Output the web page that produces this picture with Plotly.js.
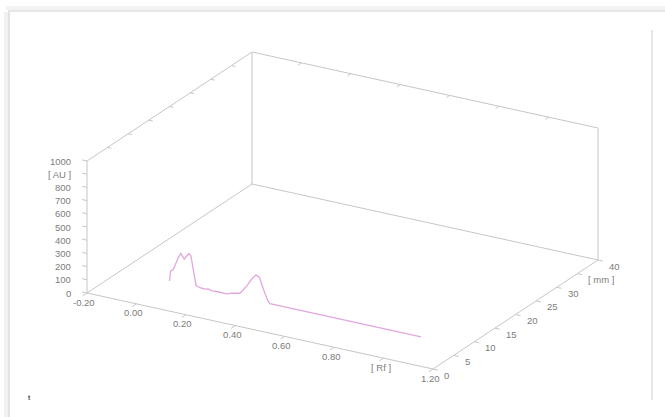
<!DOCTYPE html>
<html>
<head>
<meta charset="utf-8">
<script src="https://cdn.plot.ly/plotly-3.0.1.min.js"></script>
<style>
html,body{margin:0;padding:0;background:#fff;}
#chart{width:665px;height:417px;}
</style>
</head>
<body>
<div id="chart"></div>
<script>
// Scan data: Rf position and absorbance (AU) of the track, track position (mm)
const rfValues = [0.000, 0.005, 0.016, 0.027, 0.036, 0.046, 0.054, 0.060, 0.070, 0.079, 0.087, 0.094, 0.101, 0.108, 0.124, 0.144, 0.157, 0.171, 0.191, 0.212, 0.232, 0.252, 0.286, 0.313, 0.333, 0.350, 0.364, 0.380, 0.398, 0.407, 1.018];
const auValues = [8, 85, 104, 158, 200, 236, 208, 198, 226, 248, 233, 160, 62, 18, 8, 6, 12, 4, 7, 6, 6, 20, 33, 100, 160, 198, 185, 104, 22, 4, 4];
const trackMm = 8;

const rfRange = [-0.2, 1.2];
const mmRange = [0, 40];
const auRange = [0, 1000];

const rfTickVals = [-0.2, 0, 0.2, 0.4, 0.6, 0.8, 1.0, 1.2];
const rfTickText = ['-0.20', '0.00', '0.20', '0.40', '0.60', '0.80', '[ Rf ]', '1.20'];
const mmTickVals = [0, 5, 10, 15, 20, 25, 30, 35, 40];
const mmTickText = ['0', '5', '10', '15', '20', '25', '30', '[ mm ]', '40'];
const auTickVals = [0, 100, 200, 300, 400, 500, 600, 700, 800, 900, 1000];
const auTickText = ['0', '100', '200', '300', '400', '500', '600', '700', '800', '[ AU ]', '1000'];

// ---- oblique projection of the 3D box onto the page (layout, not data) ----
const W = 665, H = 417;
const ORIGIN = [87, 293];            // page position of (Rf min, mm 0, AU 0)
const RF_VEC = [346, 76];            // page span of the full Rf range
const MM_VEC = [165, -109];          // page span of the full mm range
const AU_VEC = [0, -132];            // page span of the full AU range
function proj(rf, mm, au) {
  const r = (rf - rfRange[0]) / (rfRange[1] - rfRange[0]);
  const m = (mm - mmRange[0]) / (mmRange[1] - mmRange[0]);
  const a = (au - auRange[0]) / (auRange[1] - auRange[0]);
  return [ORIGIN[0] + r * RF_VEC[0] + m * MM_VEC[0] + a * AU_VEC[0],
          ORIGIN[1] + r * RF_VEC[1] + m * MM_VEC[1] + a * AU_VEC[1]];
}
function unit(v, len) { const n = Math.hypot(v[0], v[1]); return [v[0] / n * len, v[1] / n * len]; }

const boxColor = '#c6c6c6';
const textColor = '#7c7c7c';
const fontFam = 'Liberation Sans, Arial, sans-serif';
const traces = [];

function seg(p, q, color, width) {
  traces.push({type: 'scatter', mode: 'lines', x: [p[0], q[0]], y: [p[1], q[1]],
    line: {color: color, width: width}, hoverinfo: 'skip', showlegend: false, cliponaxis: false});
}

// box edges: three back walls and the two floor axes
const [x0, x1] = rfRange, [y0, y1] = mmRange, [z0, z1] = auRange;
const edges = [
  [[x0, y0, z0], [x1, y0, z0]],   // Rf axis
  [[x1, y0, z0], [x1, y1, z0]],   // mm axis
  [[x0, y0, z0], [x0, y0, z1]],   // AU axis
  [[x0, y0, z1], [x0, y1, z1]],
  [[x0, y0, z0], [x0, y1, z0]],
  [[x0, y1, z0], [x0, y1, z1]],
  [[x0, y1, z1], [x1, y1, z1]],
  [[x1, y1, z1], [x1, y1, z0]],
  [[x0, y1, z0], [x1, y1, z0]]
];
edges.forEach(e => seg(proj(...e[0]), proj(...e[1]), boxColor, 1));

// tick marks
const tRf = unit(MM_VEC.map(v => -v), 5);      // Rf ticks point toward the viewer
const tMm = unit(RF_VEC, 5);                   // mm ticks point along +Rf
const tAu = unit(RF_VEC.map(v => -v), 5);      // AU ticks point along -Rf
rfTickVals.forEach(v => {
  const p = proj(v, y0, z0); seg(p, [p[0] + tRf[0], p[1] + tRf[1]], boxColor, 1);
  const q = proj(v, y1, z1); if (v > x0 && v < x1) seg(q, [q[0] + tRf[0] * 0.8, q[1] + tRf[1] * 0.8], boxColor, 1);
});
mmTickVals.forEach(v => {
  const p = proj(x1, v, z0); seg(p, [p[0] + tMm[0], p[1] + tMm[1]], boxColor, 1);
  const q = proj(x0, v, z1); if (v > y0 && v < y1) seg(q, [q[0] + tMm[0] * 0.8, q[1] + tMm[1] * 0.8], boxColor, 1);
});
auTickVals.forEach(v => {
  const p = proj(x0, y0, v); seg(p, [p[0] + tAu[0], p[1] + tAu[1]], boxColor, 1);
});

// the scan curve
const scanXY = rfValues.map((rf, i) => proj(rf, trackMm, auValues[i]));
traces.push({type: 'scatter', mode: 'lines', x: scanXY.map(p => p[0]), y: scanXY.map(p => p[1]),
  line: {color: '#e2a8de', width: 1.3}, hoverinfo: 'skip', showlegend: false});

// tick labels
const annotations = [];
function label(p, text, xanchor, dx, dy) {
  annotations.push({xref: 'x', yref: 'y', x: p[0] + dx, y: p[1] + dy, text: text, showarrow: false,
    xanchor: xanchor, yanchor: 'middle', borderpad: 0,
    font: {family: fontFam, size: 9.5, color: textColor}});
}
rfTickVals.forEach((v, i) => label(proj(v, y0, z0), rfTickText[i], 'center', -3, 9));
mmTickVals.forEach((v, i) => label(proj(x1, v, z0), mmTickText[i], 'left', 10, 6));
auTickVals.forEach((v, i) => label(proj(x0, y0, v), auTickText[i], 'right', -15, 0));

// the small mark in the lower-left corner
annotations.push({xref: 'x', yref: 'y', x: 29, y: 397, text: 'ŧ', showarrow: false, borderpad: 0,
  font: {family: fontFam, size: 8, color: '#3a3a3a'}});

const layout = {
  width: W, height: H,
  margin: {l: 0, r: 0, t: 0, b: 0},
  paper_bgcolor: '#fff', plot_bgcolor: '#fff',
  showlegend: false,
  xaxis: {range: [0, W], visible: false, fixedrange: true},
  yaxis: {range: [H, 0], visible: false, fixedrange: true},
  annotations: annotations,
  shapes: [
    // soft frame of the panel
    {type: 'line', xref: 'x', yref: 'y', x0: 6, x1: 6, y0: 12, y1: H, line: {color: '#f1f1f1', width: 4}},
    {type: 'line', xref: 'x', yref: 'y', x0: 9, x1: 9, y0: 12, y1: H, line: {color: '#e2e2e2', width: 2}},
    {type: 'line', xref: 'x', yref: 'y', x0: 6, x1: W, y0: 8, y1: 8, line: {color: '#f3f3f3', width: 4}},
    {type: 'line', xref: 'x', yref: 'y', x0: 8, x1: W, y0: 11, y1: 11, line: {color: '#e6e6e6', width: 2}},
    // separator at the right
    {type: 'line', xref: 'x', yref: 'y', x0: 652, x1: 652, y0: 30, y1: 400, line: {color: '#e6e6e6', width: 2}}
  ]
};

Plotly.newPlot('chart', traces, layout, {displayModeBar: false, staticPlot: true});
</script>
</body>
</html>
